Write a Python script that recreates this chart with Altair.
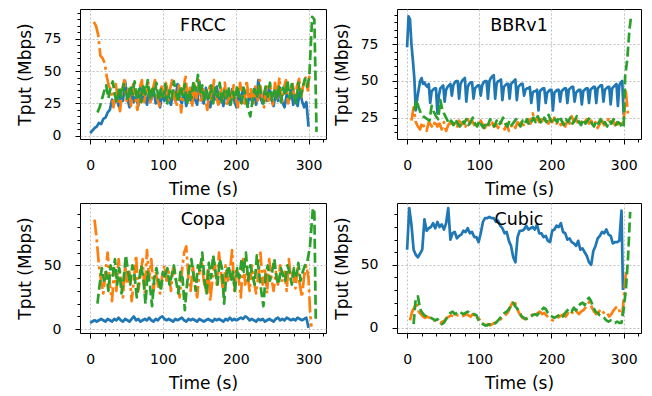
import altair as alt
import pandas as pd

FONT = "DejaVu Sans"
BLUE, ORANGE, GREEN = "#1f77b4", "#ff7f0e", "#2ca02c"

# ---------------- data (throughput in Mbps) ----------------
# each series: start time, sampling step (s), values, then extra tail points
FRCC_BLUE = [2, 4, 6, 7, 10, 9, 13, 14, 18, 20, 28, 25, 30, 23, 34, 27, 42, 29, 22, 35,
             26, 31, 23, 37, 27, 32, 24, 34, 28, 37, 25, 31, 22, 33, 27, 38, 29, 24, 35, 27,
             40, 29, 25, 36, 23, 32, 27, 38, 28, 24, 42, 29, 25, 37, 27, 22, 33, 28, 38, 25,
             32, 23, 35, 28, 24, 36, 27, 22, 34, 26, 37, 28, 23, 32, 27, 36, 24, 43, 29, 25,
             35, 27, 38, 28, 23, 33, 27, 37, 26, 22, 32, 27, 36, 24, 31, 23, 35, 27, 22, 26]
FRCC_BLUE_TAIL_T, FRCC_BLUE_TAIL_V = [300], [7]
FRCC_ORANGE = [88, 85, 78, 62, 60, 56, 45, 38, 35, 22, 40, 29, 19, 36, 43, 27, 38, 23, 40, 29,
               20, 37, 43, 26, 34, 41, 25, 36, 43, 29, 23, 38, 31, 41, 26, 37, 44, 28, 24, 39,
               18, 34, 47, 26, 37, 22, 40, 29, 43, 25, 36, 29, 20, 38, 26, 43, 31, 24, 37, 29,
               41, 23, 35, 26, 39, 29, 22, 41, 31, 25, 43, 28, 36, 23, 38, 26, 43, 30, 22, 40,
               27, 37, 24, 41, 29, 45, 26, 37, 43, 25, 34, 41, 28, 38, 44, 30, 40, 45, 35, 50]
FRCC_ORANGE_TAIL_T, FRCC_ORANGE_TAIL_V = [], []
FRCC_GREEN = [18, 22, 28, 34, 39, 29, 37, 42, 31, 26, 38, 30, 40, 34, 27, 39, 32, 42, 28, 36,
              26, 40, 32, 43, 28, 38, 31, 41, 27, 36, 30, 40, 25, 35, 29, 42, 33, 26, 38, 31,
              40, 24, 35, 29, 42, 35, 47, 32, 39, 26, 35, 29, 39, 25, 37, 30, 41, 26, 35, 29,
              38, 24, 34, 28, 39, 30, 25, 37, 29, 21, 15, 27, 36, 29, 40, 31, 25, 38, 30, 41,
              27, 35, 29, 39, 26, 37, 31, 43, 29, 40, 32, 25, 41, 30, 37, 44, 38]
FRCC_GREEN_TAIL_T, FRCC_GREEN_TAIL_V = [301, 305, 308, 311], [45, 92, 90, 3]

BBR_BLUE = [73, 94, 92, 75, 64, 52, 30, 38, 44, 50, 52, 48, 49, 47, 46, 48, 35, 43, 44, 45,
            45, 28, 40, 45, 46, 47, 36, 44, 46, 47, 48, 40, 47, 49, 50, 50, 38, 48, 50, 51,
            52, 36, 46, 48, 49, 49, 38, 45, 46, 47, 47, 40, 47, 49, 50, 50, 38, 50, 52, 53,
            54, 38, 48, 50, 50, 51, 37, 46, 47, 48, 48, 38, 48, 49, 50, 51, 37, 46, 47, 48,
            48, 40, 44, 45, 45, 46, 35, 42, 43, 43, 44, 30, 43, 44, 45, 45, 35, 42, 43, 44,
            44, 30, 42, 43, 44, 44, 36, 43, 44, 45, 45, 35, 44, 45, 46, 46, 36, 42, 43, 44,
            44, 34, 43, 44, 45, 45, 35, 44, 45, 46, 46, 35, 45, 46, 47, 47, 36, 44, 45, 46,
            46, 34, 45, 46, 47, 48, 33, 47, 49, 50]
BBR_BLUE_TAIL_T, BBR_BLUE_TAIL_V = [300], [27]
BBR_ORANGE = [23, 32, 22, 19, 17, 22, 18, 16, 22, 20, 18, 23, 19, 21, 17, 22, 16, 20, 22, 19,
              21, 18, 23, 20, 22, 19, 24, 21, 23, 20, 22, 19, 23, 20, 18, 22, 20, 23, 19, 21,
              18, 22, 20, 17, 21, 16, 19, 21, 18, 22, 20, 23, 19, 22, 24, 21, 28, 23, 25, 22,
              24, 21, 23, 20, 24, 22, 25, 21, 23, 20, 22, 19, 23, 21, 26, 22, 24, 21, 23, 20,
              22, 24, 21, 23, 20, 22, 18, 21, 23, 20, 22, 24, 21, 23, 20, 22, 19, 21, 22]
BBR_ORANGE_TAIL_T, BBR_ORANGE_TAIL_V = [303, 306], [43, 27]
BBR_GREEN = [30, 37, 32, 28, 26, 25, 24, 23, 33, 29, 26, 24, 37, 30, 27, 24, 21, 23, 20, 24,
             21, 19, 23, 21, 24, 20, 22, 25, 21, 19, 23, 20, 18, 22, 20, 24, 21, 19, 23, 20,
             22, 25, 21, 19, 23, 20, 22, 24, 21, 19, 23, 21, 24, 20, 22, 25, 22, 26, 23, 21,
             25, 22, 27, 23, 21, 24, 22, 26, 23, 20, 24, 22, 25, 21, 23, 26, 22, 20, 24, 21,
             23, 25, 21, 19, 23, 21, 24, 20, 22, 19, 23, 21, 24, 20, 22, 21, 18]
BBR_GREEN_TAIL_T, BBR_GREEN_TAIL_V = [300, 302, 305, 308, 310], [19, 53, 65, 85, 93]

COPA_BLUE = [5, 6, 7, 6, 7, 8, 7, 6, 8, 7, 6, 8, 7, 9, 7, 6, 8, 7, 6, 8,
             10, 7, 8, 6, 7, 8, 7, 9, 7, 6, 8, 7, 9, 10, 8, 7, 8, 7, 6, 8,
             7, 8, 9, 7, 6, 8, 7, 8, 7, 6, 8, 7, 6, 7, 8, 7, 6, 8, 7, 8,
             7, 6, 8, 7, 9, 7, 8, 7, 8, 9, 8, 10, 9, 7, 8, 7, 6, 8, 7, 8,
             6, 7, 8, 7, 6, 8, 9, 7, 8, 7, 9, 8, 7, 8, 7, 9, 8, 7, 8, 9]
COPA_BLUE_TAIL_T, COPA_BLUE_TAIL_V = [300], [1]
COPA_ORANGE = [86, 70, 50, 38, 28, 45, 60, 35, 22, 48, 30, 55, 40, 25, 50, 35, 45, 22, 38, 58,
               30, 42, 55, 28, 62, 40, 55, 30, 45, 35, 28, 42, 50, 38, 45, 30, 48, 40, 35, 25,
               45, 60, 65, 40, 30, 50, 35, 25, 45, 55, 38, 30, 48, 22, 40, 52, 35, 60, 42, 28,
               50, 38, 45, 62, 30, 48, 40, 25, 55, 35, 45, 30, 50, 38, 28, 42, 60, 35, 48, 28,
               55, 40, 30, 45, 35, 50, 38, 45, 30, 55, 38, 45, 32, 48, 35, 25, 42, 50, 40]
COPA_ORANGE_TAIL_T, COPA_ORANGE_TAIL_V = [302, 304], [15, 2]
COPA_GREEN = [20, 35, 48, 38, 45, 30, 50, 42, 55, 35, 48, 28, 40, 58, 45, 35, 50, 42, 25, 38,
              50, 40, 20, 45, 35, 18, 40, 48, 38, 30, 45, 40, 48, 35, 42, 50, 38, 28, 45, 40,
              15, 35, 48, 55, 42, 30, 50, 45, 60, 38, 28, 52, 40, 58, 45, 35, 55, 48, 20, 42,
              50, 38, 45, 30, 48, 40, 55, 45, 60, 38, 50, 42, 35, 58, 45, 30, 18, 42, 50, 38,
              45, 55, 40, 35, 48, 42, 38, 50, 45, 35, 48, 42, 52, 38, 45, 50, 52]
COPA_GREEN_TAIL_T, COPA_GREEN_TAIL_V = [302, 306, 308, 310], [65, 95, 92, 5]

CUBIC_BLUE = [62, 95, 82, 62, 58, 56, 59, 62, 86, 77, 79, 80, 83, 79, 84, 80, 82, 78, 83, 95,
              70, 75, 76, 71, 73, 74, 77, 76, 79, 75, 76, 72, 72, 68, 75, 84, 87, 87, 88, 87,
              87, 84, 85, 81, 79, 75, 76, 69, 65, 56, 52, 72, 77, 77, 78, 81, 78, 79, 80, 78,
              82, 75, 75, 72, 73, 69, 68, 77, 78, 81, 80, 83, 76, 75, 70, 71, 68, 67, 65, 69,
              62, 63, 60, 57, 52, 50, 61, 65, 71, 73, 76, 75, 78, 74, 73, 67, 68, 68, 69, 93]
CUBIC_BLUE_TAIL_T, CUBIC_BLUE_TAIL_V = [299], [30]
CUBIC_ORANGE = [6, 13, 16, 20, 13, 11, 9, 8, 9, 8, 7, 6, 6, 5, 4, 5, 6, 8, 9, 10,
                9, 11, 10, 10, 9, 10, 11, 10, 9, 11, 10, 9, 7, 4, 3, 2, 3, 2, 3, 4,
                5, 6, 7, 9, 10, 12, 15, 19, 22, 18, 13, 10, 8, 7, 8, 9, 10, 11, 10, 12,
                13, 11, 12, 10, 8, 7, 6, 7, 8, 9, 10, 11, 9, 12, 14, 12, 15, 13, 11, 13,
                14, 16, 19, 21, 16, 13, 11, 12, 15, 13, 11, 12, 9, 11, 14, 16, 17, 12, 10]
CUBIC_ORANGE_TAIL_T, CUBIC_ORANGE_TAIL_V = [301, 303, 305], [30, 43, 45]
CUBIC_GREEN = [3, 24, 25, 15, 12, 10, 9, 8, 8, 7, 6, 7, 5, 3, 4, 7, 10, 12, 13, 11,
               12, 13, 12, 11, 12, 13, 12, 11, 11, 10, 6, 4, 3, 2, 2, 3, 2, 3, 4, 6,
               8, 10, 12, 13, 15, 18, 20, 17, 15, 12, 9, 8, 7, 8, 9, 10, 11, 10, 12, 14,
               16, 15, 12, 10, 9, 8, 9, 10, 11, 9, 12, 14, 15, 13, 16, 14, 17, 19, 20, 18,
               22, 24, 21, 16, 13, 12, 10, 9, 8, 6, 5, 6, 5, 4, 5, 4, 4]
CUBIC_GREEN_TAIL_T, CUBIC_GREEN_TAIL_V = [300, 303, 306, 309], [15, 30, 55, 92]

X_MAJOR = [0, 100, 200, 300]
X_MINOR = [20, 40, 60, 80, 120, 140, 160, 180, 220, 240, 260, 280, 320]
X_DOMAIN = [-14, 324]

# ---------------- chart ----------------
W_LEFT, W_RIGHT, H = 246, 244, 130
LW = 2.7


def series(start, step, vals, tail_t, tail_v):
    t = [start + step * i for i in range(len(vals))] + list(tail_t)
    v = list(vals) + list(tail_v)
    return pd.DataFrame({"t": t, "v": v})


def panel(name, blue, orange, green, ydom, ymajor, yminor, w):
    xs = alt.Scale(domain=X_DOMAIN, nice=False, zero=False)
    ys = alt.Scale(domain=ydom, nice=False, zero=False)
    x_major = alt.Axis(values=X_MAJOR, title="Time (s)", grid=True, orient="bottom",
                       titleFontWeight="normal")
    y_major = alt.Axis(values=ymajor, title="Tput (Mbps)", grid=True, orient="left",
                       titleFontWeight="normal")
    x_minor = alt.Axis(values=X_MINOR, title=None, grid=False, labels=False,
                       tickSize=3, orient="bottom")
    y_minor = alt.Axis(values=yminor, title=None, grid=False, labels=False,
                       tickSize=3, orient="left")
    b = alt.Chart(blue).mark_line(color=BLUE, strokeWidth=LW, strokeJoin="round").encode(
        x=alt.X("t:Q", scale=xs, axis=x_major),
        y=alt.Y("v:Q", scale=ys, axis=y_major))
    o = alt.Chart(orange).mark_line(color=ORANGE, strokeWidth=LW, strokeJoin="round",
                                    strokeDash=[16, 4, 3, 4]).encode(
        x=alt.X("t:Q", scale=xs, axis=x_minor),
        y=alt.Y("v:Q", scale=ys, axis=y_minor))
    g = alt.Chart(green).mark_line(color=GREEN, strokeWidth=LW, strokeJoin="round",
                                   strokeDash=[10, 4]).encode(
        x=alt.X("t:Q", scale=xs, axis=None),
        y=alt.Y("v:Q", scale=ys, axis=None))
    txt = alt.Chart(pd.DataFrame({"n": [name]})).mark_text(
        font=FONT, fontSize=17.5, fontWeight="normal", color="black", align="center",
        baseline="alphabetic"
    ).encode(text="n:N", x=alt.value(w / 2), y=alt.value(22))
    return alt.layer(b, o, g, txt).resolve_axis(x="independent", y="independent").properties(
        width=w, height=H)


p1 = panel("FRCC",
           series(0, 3, FRCC_BLUE, FRCC_BLUE_TAIL_T, FRCC_BLUE_TAIL_V),
           series(5, 3, FRCC_ORANGE, FRCC_ORANGE_TAIL_T, FRCC_ORANGE_TAIL_V),
           series(10, 3, FRCC_GREEN, FRCC_GREEN_TAIL_T, FRCC_GREEN_TAIL_V),
           [-2.5, 98], [0, 25, 50, 75],
           [5, 10, 15, 20, 30, 35, 40, 45, 55, 60, 65, 70, 80, 85, 90, 95], W_LEFT)
p2 = panel("BBRv1",
           series(0, 2, BBR_BLUE, BBR_BLUE_TAIL_T, BBR_BLUE_TAIL_V),
           series(6, 3, BBR_ORANGE, BBR_ORANGE_TAIL_T, BBR_ORANGE_TAIL_V),
           series(10, 3, BBR_GREEN, BBR_GREEN_TAIL_T, BBR_GREEN_TAIL_V),
           [10.5, 99], [25, 50, 75],
           [15, 20, 30, 35, 40, 45, 55, 60, 65, 70, 80, 85, 90, 95], W_RIGHT)
p3 = panel("Copa",
           series(0, 3, COPA_BLUE, COPA_BLUE_TAIL_T, COPA_BLUE_TAIL_V),
           series(6, 3, COPA_ORANGE, COPA_ORANGE_TAIL_T, COPA_ORANGE_TAIL_V),
           series(10, 3, COPA_GREEN, COPA_GREEN_TAIL_T, COPA_GREEN_TAIL_V),
           [-3, 99], [0, 50], [10, 20, 30, 40, 60, 70, 80, 90], W_LEFT)
p4 = panel("Cubic",
           series(0, 3, CUBIC_BLUE, CUBIC_BLUE_TAIL_T, CUBIC_BLUE_TAIL_V),
           series(4, 3, CUBIC_ORANGE, CUBIC_ORANGE_TAIL_T, CUBIC_ORANGE_TAIL_V),
           series(9, 3, CUBIC_GREEN, CUBIC_GREEN_TAIL_T, CUBIC_GREEN_TAIL_V),
           [-4, 99], [0, 50], [10, 20, 30, 40, 60, 70, 80, 90], W_RIGHT)

chart = alt.vconcat(
    alt.hconcat(p1, p2, spacing=5),
    alt.hconcat(p3, p4, spacing=5),
    spacing=4,
).properties(
    padding={"left": 7, "top": 0, "right": 0, "bottom": 0}
).configure(font=FONT).configure_view(
    stroke="black", strokeWidth=1
).configure_axis(
    labelFont=FONT, titleFont=FONT, labelFontSize=14, titleFontSize=17,
    titleFontWeight="normal", labelColor="black", titleColor="black",
    tickColor="black", tickWidth=1, tickSize=5, domain=False,
    gridColor="#b0b0b0", gridDash=[2, 2], gridWidth=0.8,
    labelPadding=14, titlePadding=9,
)

chart.save("out.html", embed_options={"renderer": "svg", "actions": False})
